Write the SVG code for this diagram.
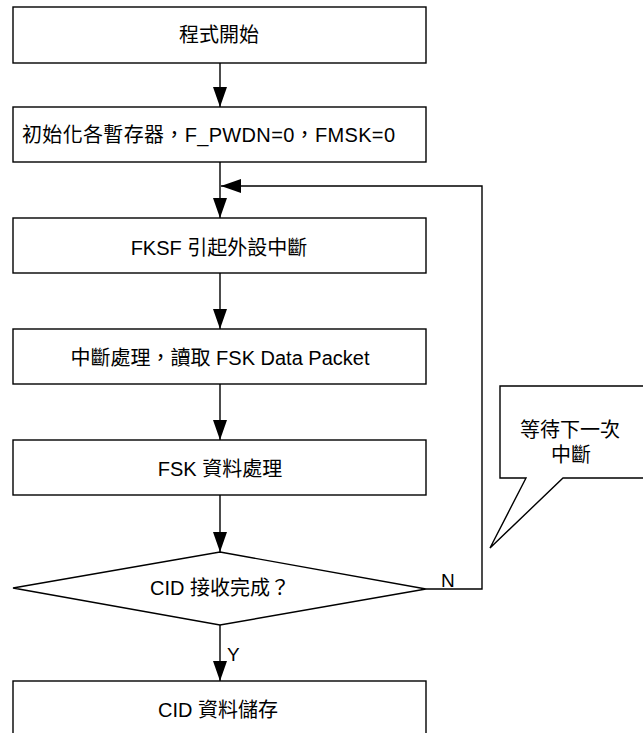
<svg xmlns="http://www.w3.org/2000/svg" width="643" height="733" viewBox="0 0 643 733">
<style>
.box{fill:#fff;stroke:#000;stroke-width:1.4}
.ln{fill:none;stroke:#000;stroke-width:1.4}
.t{font-family:"Liberation Sans","Noto Sans CJK TC",sans-serif;font-size:20px;fill:#000;text-anchor:middle}
.lbl{font-family:"Liberation Sans",sans-serif;font-size:19px;fill:#000}
</style>
<defs>
<marker id="ah" viewBox="0 0 20 14" refX="20" refY="7" markerWidth="20" markerHeight="14" markerUnits="userSpaceOnUse" orient="auto">
<path d="M0,0 L20,7 L0,14 Z" fill="#000"/>
</marker>
</defs>
<rect width="643" height="733" fill="#fff"/>
<g id="connectors">
<line class="ln" x1="220" y1="63" x2="220" y2="107" marker-end="url(#ah)"/>
<line class="ln" x1="220" y1="162" x2="220" y2="218" marker-end="url(#ah)"/>
<line class="ln" x1="220" y1="273" x2="220" y2="329" marker-end="url(#ah)"/>
<line class="ln" x1="220" y1="384" x2="220" y2="440" marker-end="url(#ah)"/>
<line class="ln" x1="220" y1="495" x2="220" y2="552" marker-end="url(#ah)"/>
<line class="ln" x1="220" y1="625" x2="220" y2="681" marker-end="url(#ah)"/>
<polyline class="ln" points="426,589 482,589 482,186 221,186" marker-end="url(#ah)"/>
<text class="lbl" x="441" y="587">N</text>
<text class="lbl" x="227" y="661">Y</text>
</g>
<g id="n1">
<rect class="box" x="13" y="7" width="413" height="56"/>
<text class="t" x="219" y="42">程式開始</text>
</g>
<g id="n2">
<rect class="box" x="13" y="107" width="413" height="55"/>
<text class="t" x="22" y="142" style="text-anchor:start" textLength="373">初始化各暫存器，F_PWDN=0，FMSK=0</text>
</g>
<g id="n3">
<rect class="box" x="13" y="218" width="413" height="55"/>
<text class="t" x="219" y="255">FKSF 引起外設中斷</text>
</g>
<g id="n4">
<rect class="box" x="13" y="329" width="413" height="55"/>
<text class="t" x="220" y="365">中斷處理，讀取 FSK Data Packet</text>
</g>
<g id="n5">
<rect class="box" x="13" y="440" width="413" height="55"/>
<text class="t" x="220" y="476">FSK 資料處理</text>
</g>
<g id="n6">
<polygon class="box" points="220,552 426,589 220,625 13,588"/>
<text class="t" x="220" y="595">CID 接收完成？</text>
</g>
<g id="n7">
<rect class="box" x="13" y="681" width="413" height="60"/>
<text class="t" x="218" y="717">CID 資料儲存</text>
</g>
<g id="callout">
<polygon class="box" points="500,386 650,386 650,478 563,478 490,548 526,478 500,478"/>
<text class="t" x="570" y="437">等待下一次</text>
<text class="t" x="571" y="462">中斷</text>
</g>
</svg>
